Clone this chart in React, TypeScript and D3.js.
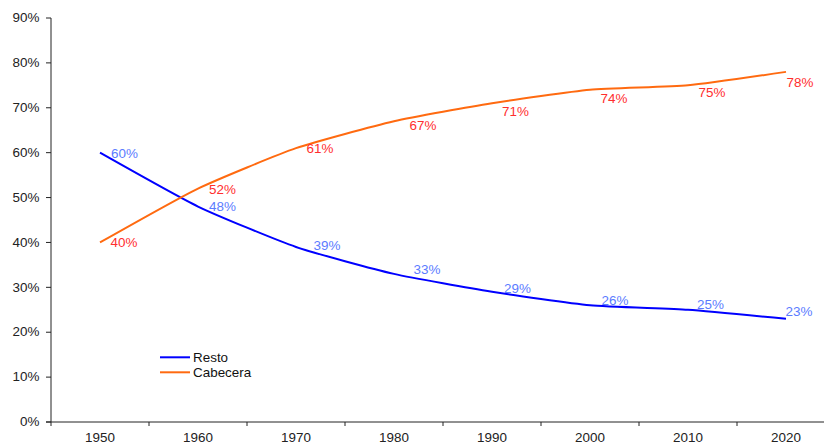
import React from "react";
import * as d3 from "d3";

const years = ["1950", "1960", "1970", "1980", "1990", "2000", "2010", "2020"];
const resto = [60, 48, 39, 33, 29, 26, 25, 23];
const cabecera = [40, 52, 61, 67, 71, 74, 75, 78];
const yTicks = [0, 10, 20, 30, 40, 50, 60, 70, 80, 90];
const seriesNames = ["Resto", "Cabecera"];

// label nudges (pixels, text centre relative to point)
const restoLabelDx = [24.5, 24.5, 31, 33, 25.5, 25, 22.5, 13];
const restoLabelDy = [1, 0.5, -1, -4, -3.5, -5, -5.3, -6.7];
const cabLabelDx = [24, 24.5, 24, 29, 23.5, 24, 24, 14];
const cabLabelDy = [0.6, 1, 1, 5, 8, 9, 7, 10.7];

const W = 824;
const H = 444;
const left = 51;
const bandW = 98;
const top = 18;
const bottom = 422;
const FONT = "'Liberation Sans', Arial, sans-serif";
const SX = 1.12;

const BLUE = "#0000FF";
const ORANGE = "#FF6A10";
const BLUE_LBL = "#5B7CFF";
const RED_LBL = "#FF2E2E";

export default function App() {
  const x = d3
    .scaleBand<string>()
    .domain(years)
    .range([left, left + bandW * years.length]);
  const y = d3.scaleLinear().domain([0, 90]).range([bottom, top]);
  const cx = (i: number) => (x(years[i]) as number) + x.bandwidth() / 2;

  const line = d3
    .line<number>()
    .x((_, i) => cx(i))
    .y((d) => y(d))
    .curve(d3.curveCardinal.tension(0.45));

  const txt = (
    key: string,
    tx: number,
    ty: number,
    s: string,
    anchor: string,
    fill: string
  ) => (
    <text
      key={key}
      transform={`translate(${tx},${ty}) scale(${SX},1)`}
      textAnchor={anchor}
      dominantBaseline="central"
      fontFamily={FONT}
      fontSize={12}
      fill={fill}
    >
      {s}
    </text>
  );

  const boundaries = d3.range(years.length + 1).map((i) => left + i * bandW);

  return (
    <svg
      width={W}
      height={H}
      style={{ position: "absolute", left: 0, top: 0, background: "#fff" }}
    >
      {/* y axis */}
      <line x1={left} x2={left} y1={top} y2={bottom} stroke="#222" strokeWidth={1} />
      {yTicks.map((t) => (
        <g key={"yt" + t}>
          <line x1={left - 5} x2={left} y1={y(t)} y2={y(t)} stroke="#222" />
          {txt("ytl" + t, 39.5, y(t), `${t}%`, "end", "#222")}
        </g>
      ))}
      {/* x axis */}
      <line x1={left - 5} x2={left + bandW * years.length} y1={bottom} y2={bottom} stroke="#222" />
      {boundaries.map((b, i) => (
        <line key={"xt" + i} x1={b} x2={b} y1={bottom} y2={bottom + 4} stroke="#222" />
      ))}
      {years.map((yr, i) => txt("xl" + yr, cx(i), 438, yr, "middle", "#222"))}

      {/* lines */}
      <path d={line(resto) || ""} fill="none" stroke={BLUE} strokeWidth={2} />
      <path d={line(cabecera) || ""} fill="none" stroke={ORANGE} strokeWidth={2} />

      {/* labels */}
      {resto.map((v, i) =>
        txt("rl" + i, cx(i) + restoLabelDx[i], y(v) + restoLabelDy[i], `${v}%`, "middle", BLUE_LBL)
      )}
      {cabecera.map((v, i) =>
        txt("cl" + i, cx(i) + cabLabelDx[i], y(v) + cabLabelDy[i], `${v}%`, "middle", RED_LBL)
      )}

      {/* legend */}
      {seriesNames.map((n, i) => {
        const ly = 357.3 + i * 15;
        return (
          <g key={"lg" + n}>
            <line x1={160} x2={190} y1={ly} y2={ly} stroke={i === 0 ? BLUE : ORANGE} strokeWidth={2} />
            {txt("lgt" + n, 193, ly, n, "start", "#111")}
          </g>
        );
      })}
    </svg>
  );
}
